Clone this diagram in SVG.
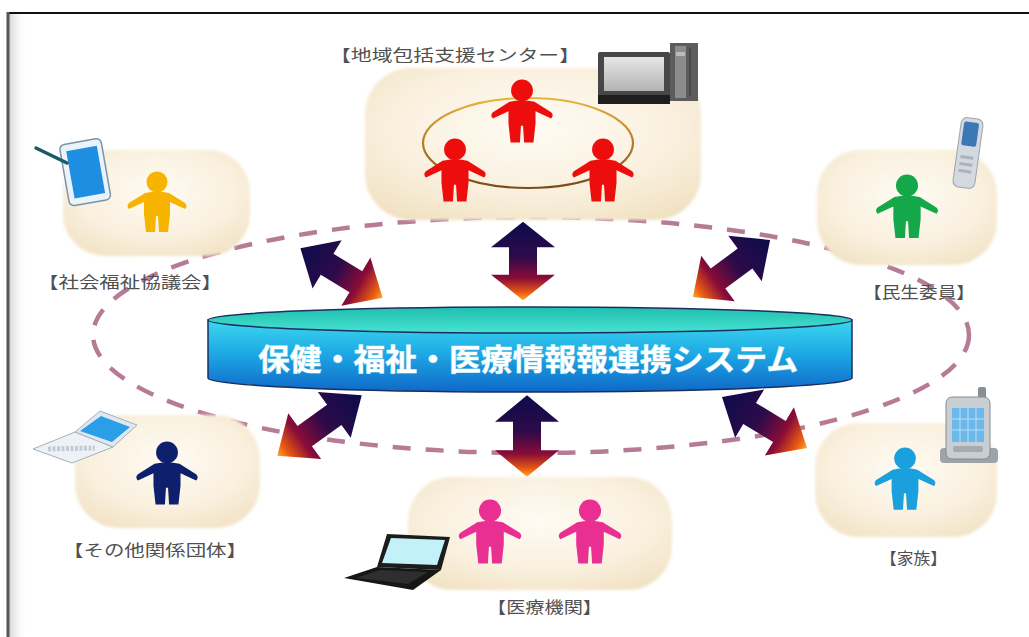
<svg xmlns="http://www.w3.org/2000/svg" xmlns:xlink="http://www.w3.org/1999/xlink" width="1029" height="637" viewBox="0 0 1029 637">
<style>
.lbl{font-family:"Noto Sans CJK JP","Noto Sans",sans-serif;font-size:16px;fill:#505050}
.title{font-family:"Noto Sans CJK JP","Noto Sans",sans-serif;font-size:30px;font-weight:bold;fill:#ffffff;stroke:#7fd0f0;stroke-width:1;paint-order:stroke}
.pill{fill:url(#pillFill);filter:url(#soft)}
.dash{fill:none;stroke:#a45a7a;stroke-width:4.5;stroke-dasharray:18 15;opacity:.8}
.arrow{fill:url(#arrowFill)}
</style>
<defs>
  <radialGradient id="pillFill" cx="50%" cy="40%" r="70%">
    <stop offset="0" stop-color="#fffbf3"/>
    <stop offset="0.6" stop-color="#f9f0de"/>
    <stop offset="1" stop-color="#f1e1c2"/>
  </radialGradient>
  <filter id="soft" x="-10%" y="-10%" width="120%" height="120%">
    <feGaussianBlur stdDeviation="1.8"/>
  </filter>
  <linearGradient id="arrowFill" x1="0" y1="0" x2="0" y2="1">
    <stop offset="0" stop-color="#0c0c4a"/>
    <stop offset="0.45" stop-color="#2e0a4a"/>
    <stop offset="0.72" stop-color="#8a0c38"/>
    <stop offset="0.9" stop-color="#e85a12"/>
    <stop offset="1" stop-color="#ffa82a"/>
  </linearGradient>
  <linearGradient id="ringStroke" gradientUnits="userSpaceOnUse" x1="0" y1="98" x2="0" y2="188">
    <stop offset="0" stop-color="#e9b43e"/>
    <stop offset="1" stop-color="#7a4a1a"/>
  </linearGradient>
  <linearGradient id="cylBody" x1="0" y1="0" x2="0" y2="1">
    <stop offset="0" stop-color="#3cd8ee"/>
    <stop offset="0.45" stop-color="#1eaae6"/>
    <stop offset="1" stop-color="#0f68c8"/>
  </linearGradient>
  <linearGradient id="cylTop" x1="0" y1="0" x2="0" y2="1">
    <stop offset="0" stop-color="#1fbfae"/>
    <stop offset="1" stop-color="#48e2d4"/>
  </linearGradient>
  <linearGradient id="edgeShade" x1="0" y1="0" x2="1" y2="0">
    <stop offset="0" stop-color="#b8b8b8"/>
    <stop offset="1" stop-color="#ffffff" stop-opacity="0"/>
  </linearGradient>
  <linearGradient id="screenGray" x1="0" y1="0" x2="0" y2="1">
    <stop offset="0" stop-color="#e6e6e6"/>
    <stop offset="1" stop-color="#b4b4b4"/>
  </linearGradient>
  <!-- person pictogram, 60 units tall, top-centred at the origin -->
  <g id="person">
    <circle cx="0" cy="10" r="10.5"/>
    <path d="M-12,21 Q0,18 12,21 L28,31 Q31,34 28,37 L13,30 L13,42 L11,60 L2,60 L1,44 L-1,44 L-2,60 L-11,60 L-13,42 L-13,30 L-28,37 Q-31,34 -28,31 Z"/>
  </g>
  <!-- double-headed arrow along y, from -40 (dark end) to +40 (bright end) -->
  <path id="dblArrow" class="arrow" d="M0,-40 L32,-14 L14,-14 L14,14 L32,14 L0,40 L-32,14 L-14,14 L-14,-14 L-32,-14 Z"/>
</defs>

<rect width="1029" height="637" fill="#ffffff"/>

<!-- frame -->
<g id="frame">
  <rect x="9" y="14" width="18" height="623" fill="url(#edgeShade)" opacity="0.6"/>
  <line x1="9" y1="13" x2="1029" y2="13" stroke="#111" stroke-width="2"/>
  <line x1="8" y1="12" x2="8" y2="637" stroke="#555" stroke-width="3"/>
</g>

<!-- connectors -->
<g id="connectors">
  <ellipse class="dash" cx="531" cy="335" rx="438" ry="118"/>
  <use href="#dblArrow" transform="translate(523,261) scale(1,0.98)"/>
  <use href="#dblArrow" transform="translate(527,436) scale(1,1.02)"/>
  <use href="#dblArrow" transform="translate(341.5,273) rotate(-58.9) scale(0.88,1.2)"/>
  <use href="#dblArrow" transform="translate(731.5,268.5) rotate(53.5) scale(0.88,1.2)"/>
  <use href="#dblArrow" transform="translate(319.5,425.5) rotate(54.3) scale(0.88,1.3)"/>
  <use href="#dblArrow" transform="translate(764.5,422.5) rotate(-59) scale(0.88,1.24)"/>
</g>

<!-- central system -->
<g id="system">
  <path d="M208,320 L208,378 A322,14 0 0 0 852,378 L852,320 Z" fill="url(#cylBody)" stroke="#1b2f5e" stroke-width="1.5"/>
  <ellipse cx="530" cy="320" rx="322" ry="13" fill="url(#cylTop)" stroke="#1b2f5e" stroke-width="1.5"/>
  <text class="title" x="258" y="370" textLength="540" lengthAdjust="spacingAndGlyphs">保健・福祉・医療情報報連携システム</text>
</g>

<!-- 地域包括支援センター -->
<g id="node-center">
  <rect class="pill" x="365" y="68" width="336" height="152" rx="46"/>
  <ellipse cx="528" cy="143" rx="105" ry="45" fill="none" stroke="url(#ringStroke)" stroke-width="2.2"/>
  <use href="#person" fill="#ee0d0d" transform="translate(522,80) scale(1.04)"/>
  <use href="#person" fill="#ee0d0d" transform="translate(455,139) scale(1.04)"/>
  <use href="#person" fill="#ee0d0d" transform="translate(603,139) scale(1.04)"/>
  <g id="desktop">
    <rect x="598" y="52" width="72" height="46" rx="2" fill="#474747"/>
    <rect x="604" y="57" width="60" height="34" fill="url(#screenGray)"/>
    <rect x="598" y="95" width="72" height="9" fill="#1e1e1e"/>
    <rect x="670" y="43" width="28" height="58" fill="#5c5c5c"/>
    <rect x="675" y="46" width="11" height="52" fill="#8c8c8c"/>
    <line x1="690" y1="48" x2="690" y2="96" stroke="#333" stroke-width="1"/>
    <rect x="676" y="52" width="9" height="4" fill="#bbb"/>
  </g>
  <text class="lbl" x="330" y="61" textLength="250" lengthAdjust="spacingAndGlyphs">【地域包括支援センター】</text>
</g>

<!-- 社会福祉協議会 -->
<g id="node-council">
  <rect class="pill" x="63" y="150" width="187" height="106" rx="42"/>
  <use href="#person" fill="#f6b400" transform="translate(157,172)"/>
  <g transform="rotate(-10 86 171)">
    <rect x="64" y="141" width="42" height="62" rx="5" fill="#eaf2fa" stroke="#7d93a6" stroke-width="1.5"/>
    <rect x="70" y="148" width="31" height="48" fill="#1e8ee0"/>
  </g>
  <line x1="36" y1="148" x2="67" y2="163" stroke="#1b5868" stroke-width="3.5" stroke-linecap="round"/>
  <text class="lbl" x="38" y="288" textLength="184" lengthAdjust="spacingAndGlyphs">【社会福祉協議会】</text>
</g>

<!-- 民生委員 -->
<g id="node-commissioner">
  <rect class="pill" x="817" y="150" width="180" height="115" rx="44"/>
  <use href="#person" fill="#14a84a" transform="translate(907,175) scale(1.05)"/>
  <g transform="rotate(8 968 153)">
    <rect x="957" y="118" width="22" height="70" rx="6" fill="#d3d9df" stroke="#9aa5ae" stroke-width="1"/>
    <rect x="960" y="122" width="15" height="24" rx="2" fill="#3b78b4"/>
    <rect x="961" y="156" width="13" height="3" fill="#a9b3bb"/>
    <rect x="961" y="163" width="13" height="3" fill="#a9b3bb"/>
    <rect x="961" y="170" width="13" height="3" fill="#a9b3bb"/>
  </g>
  <text class="lbl" x="863" y="298" textLength="112" lengthAdjust="spacingAndGlyphs">【民生委員】</text>
</g>

<!-- その他関係団体 -->
<g id="node-others">
  <rect class="pill" x="75" y="415" width="185" height="113" rx="44"/>
  <use href="#person" fill="#0e1f6e" transform="translate(167,442) scale(1.04)"/>
  <g id="laptop-white">
    <polygon points="33,449 75,432 113,447 72,463" fill="#eef2f6" stroke="#a3b0bb" stroke-width="1"/>
    <polygon points="75,432 100,411 137,425 113,447" fill="#dfe8f0" stroke="#a3b0bb" stroke-width="1"/>
    <polygon points="80,431 101,416 130,427 112,442" fill="#2a9ee8"/>
    <line x1="48" y1="449" x2="95" y2="448" stroke="#c2ccd4" stroke-width="5" stroke-dasharray="3 1.5"/>
  </g>
  <text class="lbl" x="63" y="556" textLength="184" lengthAdjust="spacingAndGlyphs">【その他関係団体】</text>
</g>

<!-- 医療機関 -->
<g id="node-medical">
  <rect class="pill" x="408" y="477" width="264" height="113" rx="44"/>
  <use href="#person" fill="#ea2f93" transform="translate(490,500) scale(1.06)"/>
  <use href="#person" fill="#ea2f93" transform="translate(590,500) scale(1.06)"/>
  <g id="laptop-black">
    <polygon points="387,534 450,537 441,570 377,567" fill="#1c1c1c"/>
    <polygon points="391,538 445,540 437,565 382,563" fill="#c2f1f8"/>
    <polygon points="344,578 377,567 441,570 413,590" fill="#161616"/>
    <polygon points="356,578 380,570 428,572 408,584" fill="#2e2e2e"/>
  </g>
  <text class="lbl" x="487" y="613" textLength="115" lengthAdjust="spacingAndGlyphs">【医療機関】</text>
</g>

<!-- 家族 -->
<g id="node-family">
  <rect class="pill" x="815" y="423" width="182" height="114" rx="44"/>
  <use href="#person" fill="#1aa0dc" transform="translate(905,448) scale(1.03)"/>
  <g id="pda">
    <rect x="978" y="387" width="8" height="14" rx="2" fill="#8b8f93"/>
    <rect x="940" y="448" width="58" height="15" rx="4" fill="#9ea3a8"/>
    <rect x="946" y="397" width="44" height="62" rx="6" fill="#c9ced3" stroke="#878c91" stroke-width="1"/>
    <rect x="952" y="408" width="32" height="34" fill="#6cb8ea"/>
    <path d="M960,408 V442 M968,408 V442 M976,408 V442 M952,419 H984 M952,430 H984" stroke="#b8dff6" stroke-width="1"/>
    <rect x="953" y="446" width="30" height="6" rx="2" fill="#a5abb1"/>
  </g>
  <text class="lbl" x="880" y="564" textLength="67" lengthAdjust="spacingAndGlyphs">【家族】</text>
</g>
</svg>
